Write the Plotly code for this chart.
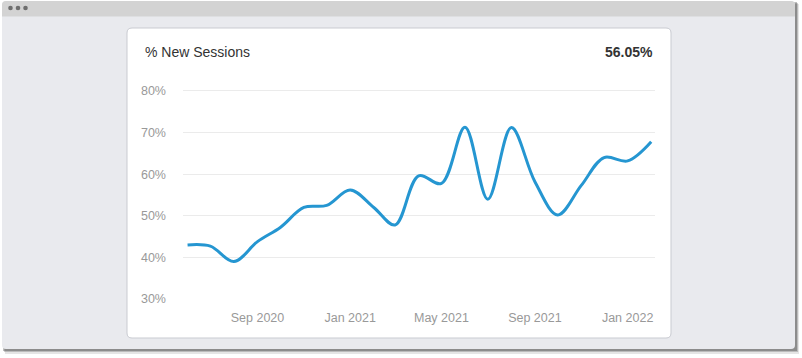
import plotly.graph_objects as go

# ---- data ----
months = ["2020-06-01", "2020-07-01", "2020-08-01", "2020-09-01", "2020-10-01",
          "2020-11-01", "2020-12-01", "2021-01-01", "2021-02-01", "2021-03-01",
          "2021-04-01", "2021-05-01", "2021-06-01", "2021-07-01", "2021-08-01",
          "2021-09-01", "2021-10-01", "2021-11-01", "2021-12-01", "2022-01-01",
          "2022-02-01"]
new_sessions_pct = [43.0, 42.7, 39.0, 43.8, 47.2, 52.0, 52.5, 56.2, 52.0, 47.8,
                    59.6, 57.8, 71.3, 54.0, 71.2, 58.2, 50.2, 57.3, 64.0, 63.2, 67.8]
y_ticks = [30, 40, 50, 60, 70, 80]
y_tick_labels = ["30%", "40%", "50%", "60%", "70%", "80%"]
x_tick_vals = ["2020-09-01", "2021-01-01", "2021-05-01", "2021-09-01", "2022-01-01"]
x_tick_labels = ["Sep 2020", "Jan 2021", "May 2021", "Sep 2021", "Jan 2022"]
chart_title = "% New Sessions"
headline_value = "56.05%"

# ---- geometry helpers (pixel -> paper) ----
W, H = 802, 358
PL, PR, PT, PB = 183, 655, 87, 300


def px(x):
    return (x - PL) / (PR - PL)


def py(y):
    return (PB - y) / (PB - PT)


def rect(x0, y0, x1, y1, fill, line=None, layer="below"):
    return dict(type="rect", xref="paper", yref="paper",
                x0=px(x0), x1=px(x1), y0=py(y1), y1=py(y0),
                fillcolor=fill, line=dict(width=0) if line is None else line,
                layer=layer)


def round_rect_path(x0, y0, x1, y1, r):
    pts = [
        f"M {px(x0 + r)},{py(y0)}",
        f"L {px(x1 - r)},{py(y0)}",
        f"Q {px(x1)},{py(y0)} {px(x1)},{py(y0 + r)}",
        f"L {px(x1)},{py(y1 - r)}",
        f"Q {px(x1)},{py(y1)} {px(x1 - r)},{py(y1)}",
        f"L {px(x0 + r)},{py(y1)}",
        f"Q {px(x0)},{py(y1)} {px(x0)},{py(y1 - r)}",
        f"L {px(x0)},{py(y0 + r)}",
        f"Q {px(x0)},{py(y0)} {px(x0 + r)},{py(y0)}",
        "Z",
    ]
    return " ".join(pts)


shapes = []
# window shadow
shapes.append(rect(5, 4, 799, 354, "rgba(0,0,0,0.10)"))
shapes.append(rect(4, 3, 798, 352, "rgba(0,0,0,0.18)"))
shapes.append(rect(3, 2, 797, 351, "rgba(0,0,0,0.25)"))
# window body
shapes.append(dict(type="path", xref="paper", yref="paper",
                   path=round_rect_path(2, 1, 795, 349, 4),
                   fillcolor="#e9eaee", line=dict(width=0), layer="below"))
# top bar
shapes.append(dict(type="path", xref="paper", yref="paper",
                   path=" ".join([
                       f"M {px(6)},{py(1)}", f"L {px(791)},{py(1)}",
                       f"Q {px(795)},{py(1)} {px(795)},{py(5)}",
                       f"L {px(795)},{py(16.5)}", f"L {px(2)},{py(16.5)}",
                       f"L {px(2)},{py(5)}", f"Q {px(2)},{py(1)} {px(6)},{py(1)}", "Z"]),
                   fillcolor="#d3d3d3", line=dict(width=0), layer="below"))
for cx in (10.5, 18, 25.5):
    shapes.append(dict(type="circle", xref="paper", yref="paper",
                       x0=px(cx - 2.3), x1=px(cx + 2.3), y0=py(8 + 2.3), y1=py(8 - 2.3),
                       fillcolor="#6e6e6e", line=dict(width=0), layer="below"))
# card
shapes.append(dict(type="path", xref="paper", yref="paper",
                   path=round_rect_path(127, 28, 671, 338, 5),
                   fillcolor="#ffffff", line=dict(color="#c9cbd1", width=1), layer="below"))

fig = go.Figure()
fig.add_trace(go.Scatter(
    x=months, y=new_sessions_pct, mode="lines",
    line=dict(color="#2596d1", width=3, shape="spline", smoothing=1.0),
    hoverinfo="skip", showlegend=False,
))

fig.update_layout(
    width=W, height=H,
    margin=dict(l=PL, r=W - PR, t=PT, b=H - PB, pad=0),
    paper_bgcolor="#ffffff",
    plot_bgcolor="rgba(0,0,0,0)",
    font=dict(family="Liberation Sans, Arial, Helvetica, sans-serif", color="#999999", size=12),
    shapes=shapes,
    showlegend=False,
    xaxis=dict(
        type="date",
        range=["2020-05-26", "2022-02-06"],
        tickvals=x_tick_vals, ticktext=x_tick_labels,
        showgrid=False, zeroline=False, showline=False,
        ticks="", ticklabelstandoff=8,
        tickfont=dict(size=12.5, color="#999999"),
        fixedrange=True,
    ),
    yaxis=dict(
        range=[29.76, 80.96],
        tickvals=y_ticks, ticktext=y_tick_labels,
        showgrid=True, gridcolor="#ebebeb", gridwidth=1,
        zeroline=False, showline=False,
        ticks="", ticklabelstandoff=16,
        tickfont=dict(size=12.5, color="#999999"),
        fixedrange=True,
    ),
    annotations=[
        dict(text=chart_title, xref="paper", yref="paper", x=px(143), y=py(52),
             xanchor="left", yanchor="middle", showarrow=False,
             font=dict(size=14, color="#333333")),
        dict(text=f"<b>{headline_value}</b>", xref="paper", yref="paper", x=px(655), y=py(52),
             xanchor="right", yanchor="middle", showarrow=False,
             font=dict(size=14, color="#333333")),
    ],
)

fig.write_html("out.html", config={"displayModeBar": False},
               post_script="document.body.style.margin='0';document.body.style.overflow='hidden';")
